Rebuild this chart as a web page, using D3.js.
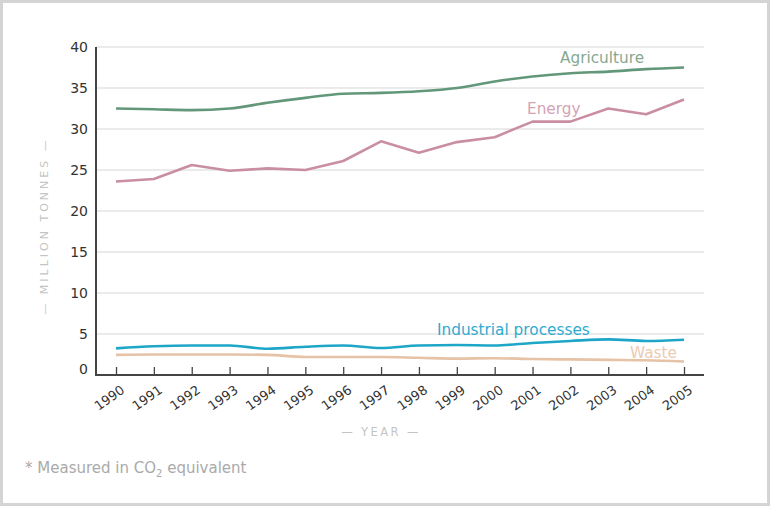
<!DOCTYPE html>
<html><head><meta charset="utf-8">
<script src="https://cdn.jsdelivr.net/npm/d3@7/dist/d3.min.js"></script>
<style>
html,body{margin:0;padding:0;background:#fff;}
svg{display:block;font-family:"DejaVu Sans",Verdana,sans-serif;}
</style></head><body>
<svg id="c" width="770" height="506"></svg>
<script>
const years = [1990,1991,1992,1993,1994,1995,1996,1997,1998,1999,2000,2001,2002,2003,2004,2005];
const agriculture = [32.5,32.4,32.3,32.5,33.2,33.8,34.3,34.4,34.6,35.0,35.8,36.4,36.8,37.0,37.3,37.5];
const energy = [23.6,23.9,25.6,24.9,25.2,25.0,26.1,28.5,27.1,28.4,29.0,30.9,30.9,32.5,31.8,33.6];
const industrial = [3.25,3.5,3.6,3.6,3.2,3.45,3.6,3.3,3.6,3.65,3.6,3.9,4.15,4.35,4.15,4.3];
const waste = [2.45,2.5,2.5,2.5,2.45,2.2,2.2,2.2,2.1,2.0,2.05,1.95,1.9,1.85,1.8,1.65];
const yTicks = [0,5,10,15,20,25,30,35,40];

const svg = d3.select("#c");
svg.append("rect").attr("x",1.5).attr("y",1.5).attr("width",767).attr("height",503)
  .attr("fill","#fff").attr("stroke","#d4d4d4").attr("stroke-width",3);

const x = d3.scalePoint().domain(years).range([116,684]);
const y = d3.scaleLinear().domain([0,40]).range([375,47]);
const left = 96, right = 704;

// gridlines
svg.append("g").selectAll("line").data(yTicks.filter(d=>d>0)).join("line")
  .attr("x1",left).attr("x2",right).attr("y1",d=>y(d)).attr("y2",d=>y(d))
  .attr("stroke","#d8d8d8").attr("stroke-width",1.2);

// y tick labels
svg.append("g").selectAll("text").data(yTicks).join("text")
  .attr("x",88).attr("y",d=>y(d)+ (d===0?-1:5)).attr("text-anchor","end")
  .attr("font-size",14).attr("fill","#333").text(d=>d);

// y axis line
svg.append("line").attr("x1",left).attr("x2",left).attr("y1",y(40)).attr("y2",y(0)+1)
  .attr("stroke","#444").attr("stroke-width",2);

// x axis
const xAxis = d3.axisBottom(x).tickSize(-8).tickSizeOuter(0).tickFormat(d=>d);
const gx = svg.append("g").attr("transform",`translate(0,${y(0)})`).call(xAxis);
gx.select(".domain").remove();
gx.selectAll(".tick line").attr("stroke","#444").attr("stroke-width",1.3);
gx.selectAll(".tick text").attr("font-size",13).attr("fill","#333")
  .attr("font-family","DejaVu Sans, Verdana, sans-serif")
  .attr("text-anchor","end").attr("dy",0).attr("y",0)
  .attr("transform","translate(9,17) rotate(-35)");
svg.append("line").attr("x1",left).attr("x2",right).attr("y1",y(0)).attr("y2",y(0))
  .attr("stroke","#444").attr("stroke-width",2);

// lines
const mk = (vals, curve) => d3.line().x((d,i)=>x(years[i])).y(d=>y(d)).curve(curve)(vals);
const series = [
  {v:agriculture, c:"#62977a", curve:d3.curveMonotoneX},
  {v:energy, c:"#c98ea3", curve:d3.curveLinear},
  {v:waste, c:"#e6c2a6", curve:d3.curveMonotoneX},
  {v:industrial, c:"#1ea6c8", curve:d3.curveMonotoneX}
];
series.forEach(s=>{
  svg.append("path").attr("d",mk(s.v,s.curve)).attr("fill","none")
    .attr("stroke",s.c).attr("stroke-width",2.6).attr("stroke-linejoin","round");
});

// series labels
const labels = [
  {t:"Agriculture", x:560, y:63, c:"#86a892"},
  {t:"Energy", x:527, y:114, c:"#d4a3b5"},
  {t:"Industrial processes", x:437, y:335, c:"#2eabcf"},
  {t:"Waste", x:630, y:358, c:"#eccab2"}
];
svg.append("g").selectAll("text").data(labels).join("text")
  .attr("x",d=>d.x).attr("y",d=>d.y).attr("fill",d=>d.c).attr("font-size",15.3).text(d=>d.t);

// axis titles
svg.append("text").attr("transform","translate(48,226) rotate(-90)").attr("text-anchor","middle")
  .attr("font-size",11).attr("fill","#c4c4c4").attr("letter-spacing",3).text("— MILLION TONNES —");
svg.append("text").attr("x",381).attr("y",436).attr("text-anchor","middle")
  .attr("font-size",11.5).attr("fill","#c4c4c4").attr("letter-spacing",2.4).text("— YEAR —");

// footnote
const fn = svg.append("text").attr("x",25).attr("y",473).attr("font-size",15).attr("fill","#aaa");
fn.append("tspan").text("* Measured in CO");
fn.append("tspan").attr("font-size",10).attr("dy",4).text("2");
fn.append("tspan").attr("dy",-4).text(" equivalent");
</script>
</body></html>
